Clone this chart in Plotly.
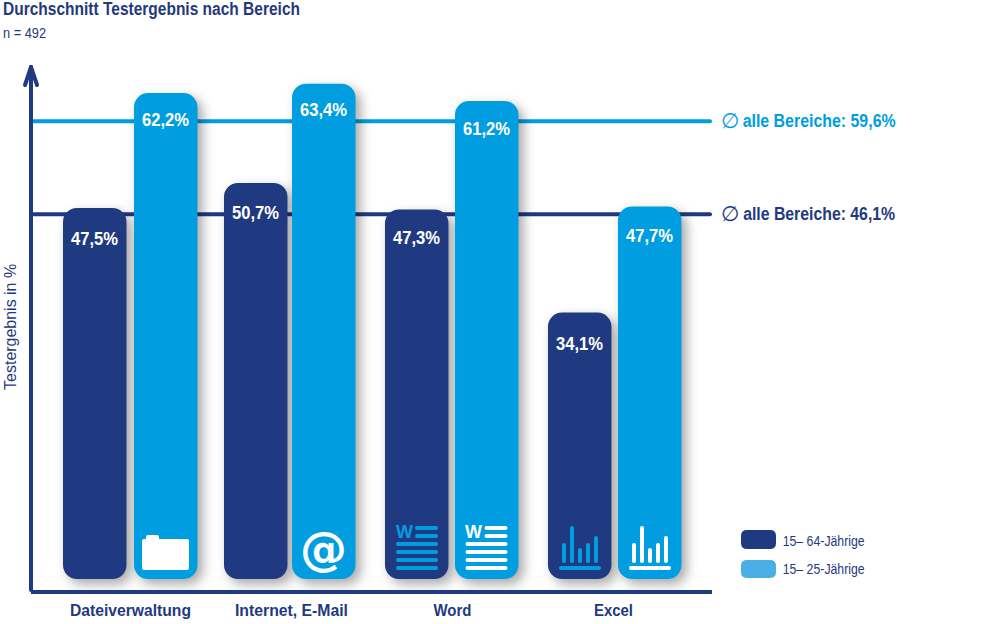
import json
import plotly.graph_objects as go

categories = ["Dateiverwaltung", "Internet, E-Mail", "Word", "Excel"]
values_all = [47.5, 50.7, 47.3, 34.1]
values_young = [62.2, 63.4, 61.2, 47.7]
series_names = ["15\u2013 64-Jährige", "15\u2013 25-Jährige"]

# the printed averages do not sit on the bar scale in the original,
# so the lines use the level read off the picture and the text keeps the printed number
avg_levels = [46.7, 58.6]
avg_labels = ["alle Bereiche: 46,1%", "alle Bereiche: 59,6%"]

DARK = "#1F3A80"
BLUE = "#009EE0"
LEGEND_BLUE = "#4BAEE4"
WHITE = "#FFFFFF"
FONT = "Liberation Sans, Arial, sans-serif"

W, H = 997, 624
CAT_PX = 161  # one category on the x axis in px
BAR_PX = 63.5
# left edge of each bar relative to its category centre, px (pairs are not evenly spaced)
offset_all = [-67.5, -67.5, -67.5, -65.5]
offset_young = [3.5, 0.5, 2.5, 4.5]
# distance from bar top down to its label, px
drop_all = [31, 30, 28, 31]
drop_young = [27, 26, 28, 30]


def px(x):
    return x / W


def py(y):
    return 1 - y / H


def rounded_rect(x0, y0, x1, y1, r):
    parts = [f"M{px(x0 + r):.5f},{py(y0):.5f}", f"L{px(x1 - r):.5f},{py(y0):.5f}",
             f"Q{px(x1):.5f},{py(y0):.5f} {px(x1):.5f},{py(y0 + r):.5f}",
             f"L{px(x1):.5f},{py(y1 - r):.5f}",
             f"Q{px(x1):.5f},{py(y1):.5f} {px(x1 - r):.5f},{py(y1):.5f}",
             f"L{px(x0 + r):.5f},{py(y1):.5f}",
             f"Q{px(x0):.5f},{py(y1):.5f} {px(x0):.5f},{py(y1 - r):.5f}",
             f"L{px(x0):.5f},{py(y0 + r):.5f}",
             f"Q{px(x0):.5f},{py(y0):.5f} {px(x0 + r):.5f},{py(y0):.5f} Z"]
    return " ".join(parts)


def line_px(x0, y0, x1, y1, color, width):
    return dict(type="line", xref="paper", yref="paper", x0=px(x0), y0=py(y0), x1=px(x1), y1=py(y1),
                line=dict(color=color, width=width), layer="above")


def word_icon(cx, color):
    out = [line_px(cx + 0, 528, cx + 19, 528, color, 4), line_px(cx + 0, 536, cx + 19, 536, color, 4)]
    for y in [544, 552, 560, 568]:
        out.append(line_px(cx - 19, y, cx + 19, y, color, 4))
    return out


def excel_icon(cx, color):
    out = [line_px(cx - 19, 568, cx + 19, 568, color, 4)]
    for dx, top in zip([-16, -8, 0, 8, 16], [545, 528, 550, 545, 538]):
        out.append(line_px(cx + dx, top, cx + dx, 561, color, 4))
    return out


fig = go.Figure()
# a bar with an explicit base gets all four corners rounded, not just the top
for name, vals, color, offsets in [(series_names[0], values_all, DARK, offset_all),
                                   (series_names[1], values_young, BLUE, offset_young)]:
    fig.add_trace(go.Bar(x=categories, y=vals, base=[0] * len(vals), name=name, showlegend=False,
                         offset=[o / CAT_PX for o in offsets], width=BAR_PX / CAT_PX,
                         marker=dict(color=color, cornerradius=14, line_width=0)))

shapes = []
for level, color in zip(avg_levels, [DARK, BLUE]):
    shapes.append(dict(type="line", xref="paper", yref="y", x0=px(31), x1=px(710), y0=level, y1=level,
                       line=dict(color=color, width=4), layer="below"))

# y axis arrow
shapes.append(line_px(31, 590, 31, 67, DARK, 4))
shapes.append(line_px(25, 85, 31, 67, DARK, 4))
shapes.append(line_px(37, 85, 31, 67, DARK, 4))

# folder icon
shapes.append(dict(type="path", xref="paper", yref="paper", layer="above", fillcolor=WHITE,
                   line=dict(width=0), path=rounded_rect(142, 539, 189, 570, 2)))
shapes.append(dict(type="path", xref="paper", yref="paper", layer="above", fillcolor=WHITE,
                   line=dict(width=0), path=rounded_rect(146, 535, 159, 542, 2)))
shapes += word_icon(417, BLUE) + word_icon(486.5, WHITE)
shapes += excel_icon(580, BLUE) + excel_icon(650, WHITE)

# legend swatches
shapes.append(dict(type="path", xref="paper", yref="paper", fillcolor=DARK, line=dict(width=0),
                   path=rounded_rect(741, 530, 776, 549, 6)))
shapes.append(dict(type="path", xref="paper", yref="paper", fillcolor=LEGEND_BLUE, line=dict(width=0),
                   path=rounded_rect(741, 560, 776, 578, 6)))

annotations = []


def add_text(x, y, text, size, color=DARK, bold=False, family=FONT, angle=0):
    annotations.append(dict(xref="paper", yref="paper", x=px(x), y=py(y), text=text, showarrow=False,
                            xanchor="center", yanchor="middle", textangle=angle,
                            font=dict(family=family, size=size, color=color, weight=700 if bold else 400)))


for vals, offsets, drops in [(values_all, offset_all, drop_all), (values_young, offset_young, drop_young)]:
    for cat, v, o, d in zip(categories, vals, offsets, drops):
        annotations.append(dict(x=cat, y=v, xref="x", yref="y", xshift=o + BAR_PX / 2, yshift=-d, yanchor="middle",
                                text=f"{v:.1f}%".replace(".", ","), showarrow=False,
                                font=dict(family=FONT, size=18, color=WHITE, weight=700)))

for level, label, color in zip(avg_levels, avg_labels, [DARK, BLUE]):
    annotations.append(dict(x=px(819.5), y=level, xref="paper", yref="y", text=label, showarrow=False,
                            xanchor="center", yanchor="middle",
                            font=dict(family=FONT, size=17.5, color=color, weight=700)))
    annotations.append(dict(x=px(730), y=level, xref="paper", yref="y", text="\u2205", showarrow=False,
                            xanchor="center", yanchor="middle",
                            font=dict(family="DejaVu Sans", size=21, color=color)))

add_text(24.5, 33, "n = 492", 14)
add_text(10, 327, "Testergebnis in %", 16.5, angle=-90)
add_text(824, 541, series_names[0], 14)
add_text(824, 569, series_names[1], 14)
add_text(323.5, 548, "@", 47, color=WHITE, bold=True, family="DejaVu Sans")
add_text(404, 531.5, "W", 18, color=BLUE, bold=True)
add_text(473.5, 531.5, "W", 18, color=WHITE, bold=True)

title_text = "Durchschnitt Testergebnis nach Bereich"

# widths: the original face is condensed and none is installed,
# so the text is squeezed to that width in the page
text_widths = {title_text: 297, "n = 492": 43, "Testergebnis in %": 126,
               series_names[0]: 82, series_names[1]: 82,
               avg_labels[0]: 152, avg_labels[1]: 153,
               categories[0]: 121, categories[1]: 113, categories[2]: 38, categories[3]: 39}
for v in values_all + values_young:
    text_widths[f"{v:.1f}%".replace(".", ",")] = 47

fig.update_layout(
    width=W, height=H,
    margin=dict(l=0, r=0, t=0, b=0, autoexpand=False),
    paper_bgcolor=WHITE, plot_bgcolor=WHITE,
    barmode="overlay",
    title=dict(text=title_text, x=px(3), xanchor="left", y=py(9), yanchor="middle",
               font=dict(family=FONT, size=18, color=DARK, weight=700)),
    shapes=shapes, annotations=annotations,
    xaxis=dict(domain=[px(31), px(712)], range=[-0.618, 3.612], showline=True, linecolor=DARK, linewidth=4,
               showgrid=False, ticks="", ticklabelstandoff=2, fixedrange=True,
               tickfont=dict(family=FONT, size=17, color=DARK, weight=700)),
    yaxis=dict(domain=[py(590), py(65)], range=[-1.41, 65.8], showline=False, showgrid=False, zeroline=False,
               showticklabels=False, ticks="", fixedrange=True),
)

# page margin off, soft shadow behind the bars, rounded line ends, condensed text
post = """
var widths = %s;
document.body.style.margin = '0';
document.querySelectorAll('.barlayer').forEach(function (g) {
  g.style.filter = 'drop-shadow(5px 5px 6px rgba(0,0,0,0.35))';
});
document.querySelectorAll('.shapelayer path').forEach(function (p) {
  p.style.strokeLinecap = 'round';
});
document.querySelectorAll('svg text').forEach(function (t) {
  var w = widths[t.textContent];
  if (w) {
    t.setAttribute('textLength', w);
    t.setAttribute('lengthAdjust', 'spacingAndGlyphs');
  }
});
""" % json.dumps(text_widths)
fig.write_html("out.html", post_script=post, config=dict(displayModeBar=False))
